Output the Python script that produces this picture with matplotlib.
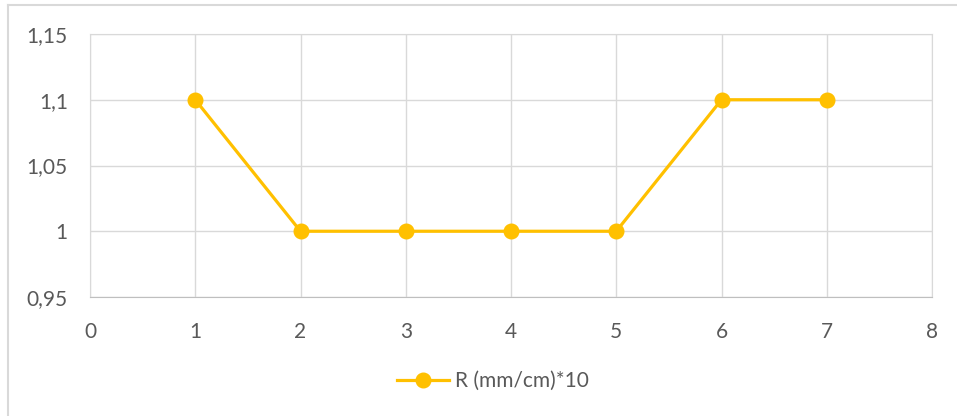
import matplotlib.pyplot as plt
from matplotlib.ticker import FuncFormatter
from matplotlib.lines import Line2D

x = [1, 2, 3, 4, 5, 6, 7]
r_values = [1.1, 1.0, 1.0, 1.0, 1.0, 1.1, 1.1]
series_name = 'R (mm/cm)*10'
x_ticks = [0, 1, 2, 3, 4, 5, 6, 7, 8]
y_ticks = [0.95, 1.0, 1.05, 1.1, 1.15]

txt = '#595959'
grid = '#D9D9D9'
gold = '#FFC000'
plt.rcParams['font.family'] = ['Lato', 'DejaVu Sans']

fig = plt.figure(figsize=(9.57, 4.16), dpi=100)
ax = fig.add_axes([90/957, 1-297/416, (932-90)/957, (297-34)/416])

ax.plot(x, r_values, color=gold, lw=2.3, marker='o', ms=10.5, zorder=3)
ax.set_xlim(0, 8)
ax.set_ylim(0.95, 1.15)
ax.set_xticks(x_ticks)
ax.set_yticks(y_ticks)
ax.yaxis.set_major_formatter(FuncFormatter(lambda v, p: ('%g' % round(v, 2)).replace('.', ',')))
ax.grid(True, color=grid, lw=1)
ax.set_axisbelow(True)
for s in ax.spines.values():
    s.set_color(grid)
ax.spines['bottom'].set_color('#BFBFBF')
ax.tick_params(length=0, labelsize=15, colors=txt, pad=18)
ax.tick_params(axis='y', pad=16)

h = Line2D([], [], color=gold, lw=2.3, marker='o', ms=10.5)
fig.legend([h], [series_name], loc='center', bbox_to_anchor=(493/957, 1-381/416),
           frameon=False, fontsize=15, labelcolor=txt, handlelength=2.5, handletextpad=0.25)

# outer chart border (left and top visible)
fig.add_artist(Line2D([8/957, 8/957], [0, 1-5/416], color=grid, lw=1.5, transform=fig.transFigure))
fig.add_artist(Line2D([8/957, 1], [1-5/416, 1-5/416], color=grid, lw=1.5, transform=fig.transFigure))

fig.savefig('out.png', dpi=100)
